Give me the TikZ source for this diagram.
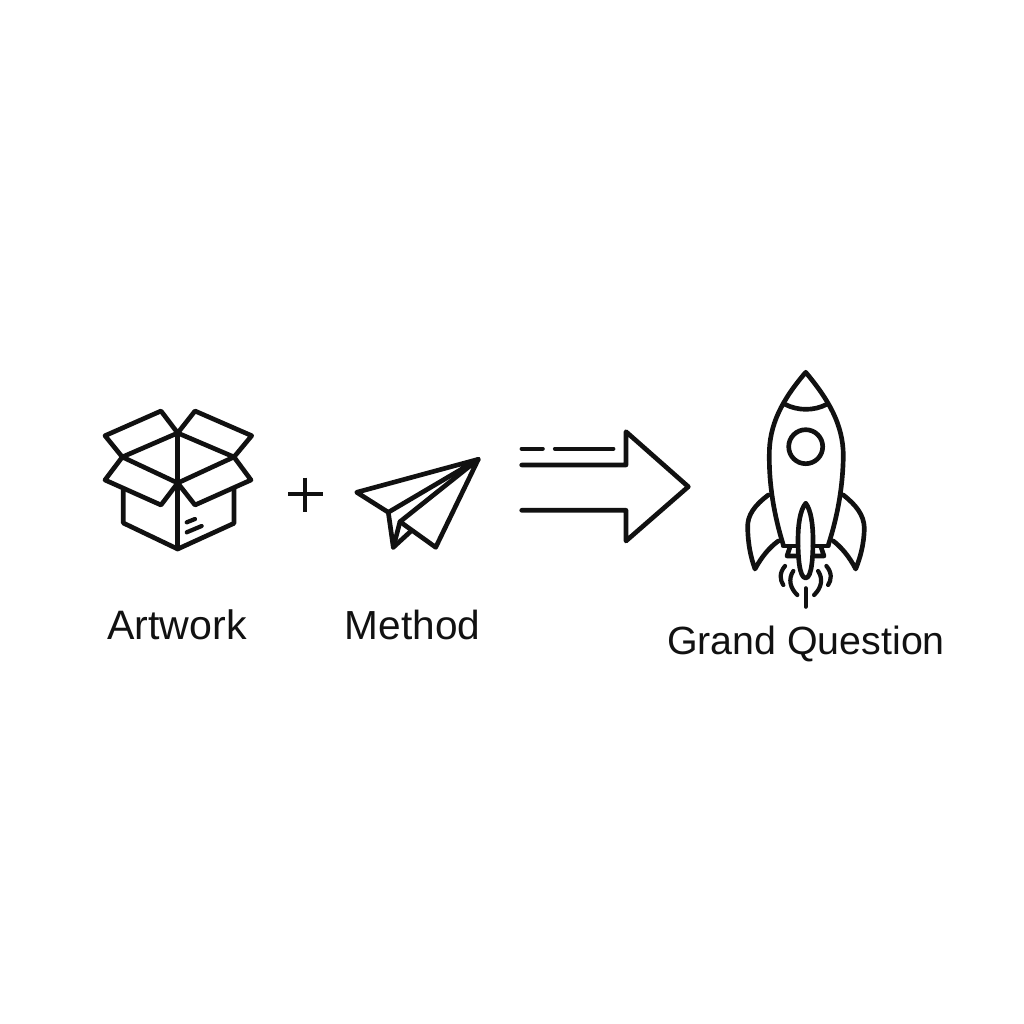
\documentclass[tikz,border=0pt]{standalone}
\usepackage{fontspec}
\setmainfont{Liberation Sans}
\definecolor{ink}{HTML}{111111}
\tikzset{
  icon/.style={line width=2.65pt,line cap=round,line join=round,draw=ink},
  thinicon/.style={line width=2.4pt,line cap=round,line join=round,draw=ink},
  caption/.style={anchor=base,text=ink,inner sep=0pt,font=\fontsize{#1}{27}\selectfont}
}
\begin{document}
\begin{tikzpicture}[x=0.02cm,y=-0.02cm]
\useasboundingbox (0,0) rectangle (1024,1024);
\fill[white] (0,0) rectangle (1024,1024);
% box
\draw[icon] (177.7,433) -- (161,411) -- (105,435.7) -- (122.3,457) -- cycle;
\draw[icon] (177.7,433) -- (195,411) -- (251.7,435.7) -- (234,457) -- cycle;
\draw[icon] (122.3,457) -- (105,480) -- (161,505) -- (177.7,483) -- cycle;
\draw[icon] (234,457) -- (251,480) -- (195,505) -- (177.7,483) -- cycle;
\draw[icon] (177.7,433) -- (177.7,549);
\draw[icon] (123.3,489) -- (123.3,523) -- (177.7,549) -- (234,523.3) -- (234,489);
\draw[thinicon] (186.7,522.3) -- (195,519);
\draw[thinicon] (186.7,532.3) -- (201.7,526);
% plus
\draw[thinicon,line cap=butt] (288.3,494.3) -- (322.7,494.3);
\draw[thinicon,line cap=butt] (305.3,477.7) -- (305.3,511.7);
% plane
\draw[icon] (478.3,459.3) -- (356.7,492.3) -- (388.3,512.3) -- cycle;
\draw[icon] (388.3,512.3) -- (393.3,547.3) -- (410,532);
\draw[icon] (478.3,459.3) -- (400,521.7) -- (435.7,547.3) -- cycle;
\draw[icon] (400,521.7) -- (393.3,547.3);
% arrow
\draw[thinicon] (521.7,448.7) -- (542.7,448.7);
\draw[thinicon] (555,448.7) -- (613.3,448.7);
\draw[icon] (521.7,465) -- (626,465) -- (626,431.7) -- (688.3,486.7) -- (626,541) -- (626,510.3) -- (521.7,510.3);
% rocket
\draw[icon] (783.3,545) .. controls (774,515) and (769,485) .. (769.3,455)
  .. controls (769,425) and (782,400) .. (805.7,372.3)
  .. controls (829,400) and (843,425) .. (843.3,455)
  .. controls (843,485) and (838,515) .. (828.3,545);
\draw[icon] (785,404.3) .. controls (798,411) and (814,411) .. (826.7,404.3);
\draw[icon] (805.7,446.7) circle (17);
\draw[icon] (768.3,495) .. controls (755,505) and (747,515) .. (747.7,528)
  .. controls (748,545) and (751,558) .. (755,569)
  .. controls (762,556) and (770,547) .. (778.3,541);
\draw[icon] (843.3,495) .. controls (856,505) and (864,515) .. (864.3,528)
  .. controls (864,545) and (860,558) .. (855.7,569)
  .. controls (849,556) and (841,547) .. (833.3,541);
\draw[icon] (783.3,546) -- (798,546);
\draw[icon] (813,546) -- (828.3,546);
\draw[icon] (790,547) -- (787,556) -- (798,556);
\draw[icon] (821,547) -- (824,556) -- (813,556);
\draw[icon] (805.7,503.3) .. controls (800,510) and (798,525) .. (798,540)
  .. controls (798,555) and (799,578) .. (805.7,578)
  .. controls (812,578) and (813,555) .. (813,540)
  .. controls (813,525) and (811,510) .. (805.7,503.3);
\draw[thinicon] (805.7,588.3) -- (805.7,606.7);
\draw[thinicon] (785,566) .. controls (779,573) and (780,580) .. (783.3,585);
\draw[thinicon] (793.3,571) .. controls (788,579) and (790,588) .. (797.3,595);
\draw[thinicon] (826.4,566) .. controls (832.4,573) and (831.4,580) .. (828.1,585);
\draw[thinicon] (818.1,571) .. controls (823.4,579) and (821.4,588) .. (814.1,595);
% labels
\node[caption=23.4] (artwork) at (177,639) {Artwork};
\node[caption=23.1] (method) at (412.5,639) {Method};
\node[caption=22.4] (question) at (806,654) {Grand Question};
\end{tikzpicture}
\end{document}
